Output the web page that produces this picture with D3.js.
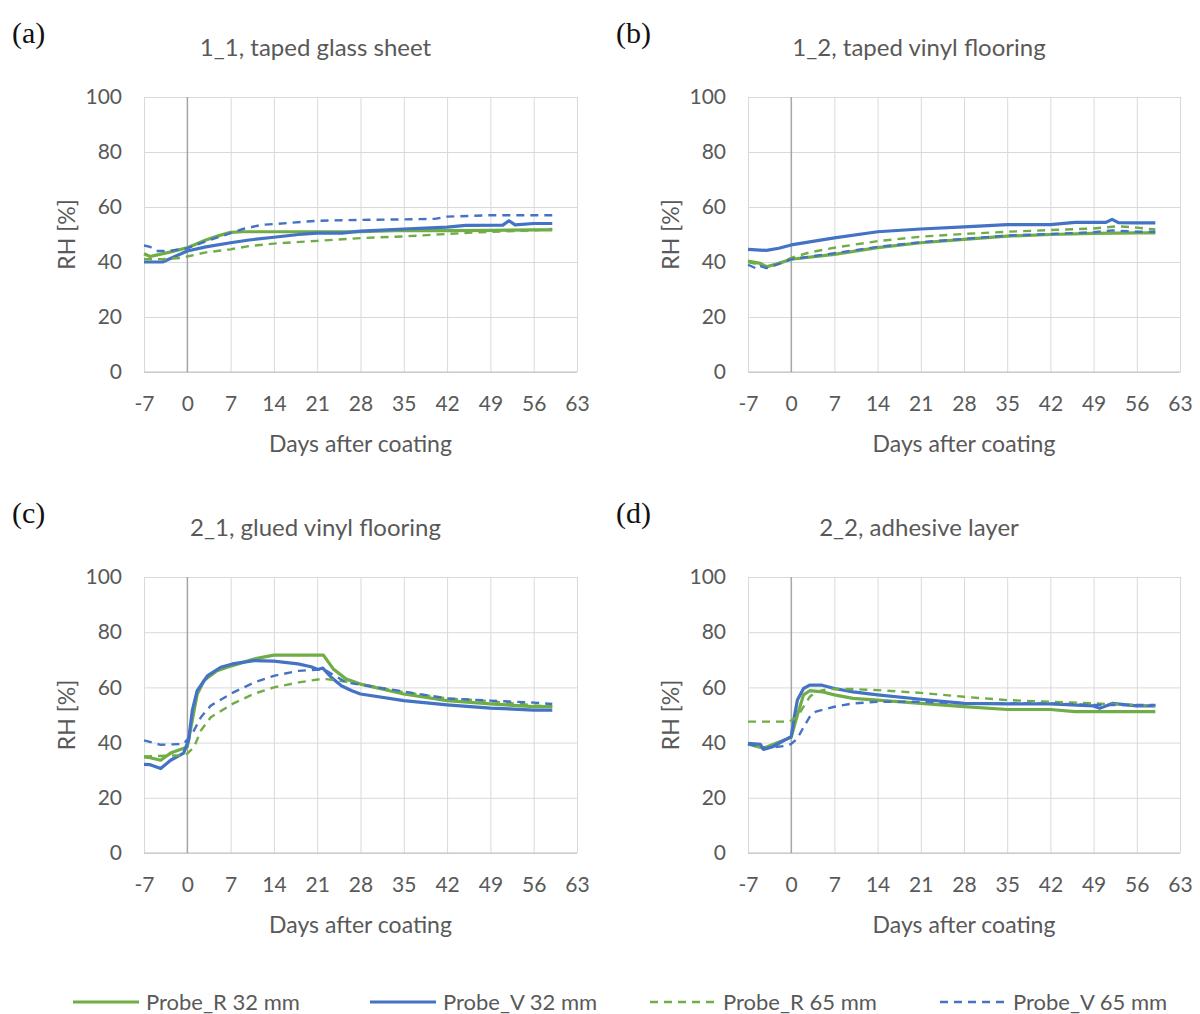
<!DOCTYPE html>
<html>
<head>
<meta charset="utf-8">
<script src="https://cdn.jsdelivr.net/npm/d3@7"></script>
<style>
  body { margin: 0; background: #ffffff; }
  svg { display: block; }
</style>
</head>
<body>
<script>
// tick labels
var xTicks = [-7, 0, 7, 14, 21, 28, 35, 42, 49, 56, 63];
var yTicks = [0, 20, 40, 60, 80, 100];

var seriesNames = ["Probe_R 32 mm", "Probe_V 32 mm", "Probe_R 65 mm", "Probe_V 65 mm"];

// (a) 1_1, taped glass sheet  -- [day, RH]
var aR32 = [[-7,43],[-6,42],[-5,42.5],[-3,43.5],[0,45.2],[3,48],[5,49.5],[7,50.8],[9,51],[21,51],[28,51],[35,51.5],[42,51.4],[49,51.5],[56,51.7],[59,51.7]];
var aV32 = [[-7,40],[-4,40],[-2,42],[0,44],[3,45.5],[7,47],[10,48],[14,49],[18,50],[21,50.5],[25,50.5],[28,51.2],[35,52],[42,52.7],[45,53.3],[51,53.4],[52,55],[53,53.5],[56,54],[59,54]];
var aR65 = [[-7,41],[-4,41],[-1,41.5],[0,42],[3,43.5],[7,44.6],[10,45.8],[14,46.7],[21,47.7],[28,48.7],[35,49.3],[42,50.2],[49,51],[56,51.5],[59,52]];
var aV65 = [[-7,46],[-6,45.5],[-5,44],[-3,44],[0,45],[3,47.5],[7,50.5],[9,52],[12,53.5],[14,53.8],[21,55],[28,55.3],[35,55.5],[40,55.7],[42,56.5],[49,57],[56,57],[59,57]];

// (b) 1_2, taped vinyl flooring
var bR32 = [[-7,40.3],[-5,39.5],[-4,38.3],[-2,39.5],[0,41],[7,42.8],[14,45.2],[21,47],[28,48.2],[35,49.4],[42,50],[49,50.4],[56,50.6],[59,50.6]];
var bV32 = [[-7,44.6],[-4,44.2],[-2,45],[0,46.2],[7,48.8],[14,51],[21,52],[28,52.8],[35,53.6],[42,53.6],[46,54.4],[51,54.4],[52,55.5],[53,54.3],[56,54.2],[59,54.2]];
var bR65 = [[-7,40],[-5,39],[-4,38],[-2,39.5],[0,41.5],[3,43.5],[7,45.2],[14,47.6],[21,49.2],[28,50.2],[35,51],[42,51.6],[49,52.2],[53,53],[56,52.5],[59,51.8]];
var bV65 = [[-7,39],[-5.5,37.5],[-5,38.5],[-4,37.8],[-3,38.5],[0,41],[7,43.2],[14,45.5],[21,47.2],[28,48.4],[35,49.6],[42,50.2],[49,50.8],[52,51.5],[56,51],[59,51]];

// (c) 2_1, glued vinyl flooring
var cR32 = [[-7,34.8],[-6,34.5],[-4.3,33.6],[-2.7,36.2],[0,38.4],[0.8,48],[1.6,57.5],[2.7,62.5],[4.8,66],[7.3,67.9],[10.8,70.3],[14,71.7],[22,71.7],[23.6,66.7],[25.7,63],[28,61.2],[35,57.6],[42,55.2],[49,54],[56,53],[59,53]];
var cV32 = [[-7,32.1],[-6,32],[-4.3,30.6],[-2.7,33.6],[-0.6,36.2],[0.2,40.8],[0.8,51.6],[1.6,58.8],[3.3,64.3],[5.4,67.3],[7.3,68.5],[10.8,69.7],[14,69.5],[17.9,68.5],[20,67.5],[21.1,66.5],[21.9,67],[23.3,63.6],[24.9,60.6],[26.6,58.8],[28,57.6],[35,55.2],[42,53.7],[49,52.5],[56,51.8],[59,51.8]];
var cR65 = [[-7,35],[-1,35.4],[0,36],[1.1,38.4],[2.2,44.4],[3.8,49.2],[7.3,54],[10.8,57.7],[14,60],[18,61.8],[21.5,63],[22.5,63],[25.7,62],[28,61.2],[35,58.3],[42,56],[49,55],[56,53.5],[59,53]];
var cV65 = [[-7,40.8],[-4.3,39.2],[-0.6,39.5],[0.8,43.2],[2.2,49.2],[3.8,53.4],[7.3,58],[10.8,61.8],[14,64.2],[18,66],[21.5,66.5],[22.5,66],[25.7,61.8],[28,61],[35,58.5],[42,56],[49,55.2],[56,54.5],[59,54]];

// (d) 2_2, adhesive layer
var dR32 = [[-7,39.5],[-4.5,38],[-1,41],[0,42],[1,50],[2,57.3],[3,58.8],[5,58.4],[7,57.3],[10,56],[14,55.4],[21,54.2],[28,53],[35,52],[42,52],[46,51.2],[56,51.2],[59,51.2]];
var dV32 = [[-7,39.7],[-5,39.4],[-4.5,37.5],[-3,38.5],[-1,41],[0,42.1],[0.5,49.3],[1,55.4],[2,59.6],[3,60.8],[5,60.8],[7,59.6],[10,58.4],[14,57.3],[21,55.7],[28,54.2],[35,54],[42,54],[49,53.3],[50,52.4],[52,54.2],[56,53.3],[59,53.3]];
var dR65 = [[-7,47.6],[-0.3,47.6],[1,49.3],[2,53],[3,56.6],[4,58.4],[6,59.4],[10,59.4],[14,59],[21,58],[28,56.6],[35,55.4],[42,54.8],[49,54.2],[56,53.6],[59,53.3]];
var dV65 = [[-7,39.5],[-4,38],[-1,38.8],[0,39.5],[1,41.5],[2,45.6],[3,49.3],[4,51.2],[6,52.4],[7,53],[10,54.2],[14,54.8],[21,54.8],[28,54.2],[35,54.2],[42,54.2],[49,53.6],[56,53.6],[59,53.6]];

var panels = [
  {letter: "(a)", title: "1_1, taped glass sheet", series: [aR32, aV32, aR65, aV65], col: 0, row: 0},
  {letter: "(b)", title: "1_2, taped vinyl flooring", series: [bR32, bV32, bR65, bV65], col: 1, row: 0},
  {letter: "(c)", title: "2_1, glued vinyl flooring", series: [cR32, cV32, cR65, cV65], col: 0, row: 1},
  {letter: "(d)", title: "2_2, adhesive layer", series: [dR32, dV32, dR65, dV65], col: 1, row: 1}
];

var w = 1200;
var h = 1014;
var colX = [[144, 577], [748, 1180]];
var rowY = [[97, 372], [577, 853]];
var colors = ["#70ad47", "#4472c4", "#70ad47", "#4472c4"];
var dashes = [null, null, "8,6", "8,6"];
var widths = [3.2, 3.2, 2.4, 2.4];
var textColor = "#595959";
var font = "Lato, 'Open Sans', sans-serif";

var svg = d3.select("body")
            .append("svg")
            .attr("width", w)
            .attr("height", h)
            .style("background-color", "#ffffff");

panels.forEach(function(p) {
  var x0 = colX[p.col][0], x1 = colX[p.col][1];
  var y0 = rowY[p.row][0], y1 = rowY[p.row][1];

  var x = d3.scaleLinear().domain([-7, 63]).range([x0, x1]);
  var y = d3.scaleLinear().domain([0, 100]).range([y1, y0]);

  var g = svg.append("g");

  // grid + tick labels
  var xAxis = g.append("g")
    .attr("transform", "translate(0," + y1 + ")")
    .call(d3.axisBottom(x).tickValues(xTicks).tickSize(-(y1 - y0)).tickPadding(24).tickFormat(d3.format("d")));
  var yAxis = g.append("g")
    .attr("transform", "translate(" + x0 + ",0)")
    .call(d3.axisLeft(y).tickValues(yTicks).tickSize(-(x1 - x0)).tickPadding(22));

  [xAxis, yAxis].forEach(function(a) {
    a.select(".domain").remove();
    a.selectAll("line").attr("stroke", "#d9d9d9").attr("stroke-width", 1);
    a.selectAll("text")
      .attr("fill", textColor)
      .style("font-family", font)
      .style("font-size", "21px");
  });
  xAxis.selectAll("text").text(function(d) { return d < 0 ? "-" + Math.abs(d) : d; });

  // bottom axis line and the zero-day axis line
  g.append("line")
    .attr("x1", x0).attr("x2", x1)
    .attr("y1", y(0)).attr("y2", y(0))
    .attr("stroke", "#bfbfbf").attr("stroke-width", 1);
  g.append("line")
    .attr("x1", x(0)).attr("x2", x(0))
    .attr("y1", y0).attr("y2", y1)
    .attr("stroke", "#9a9a9a").attr("stroke-width", 1.2);

  var line = d3.line()
    .x(function(d) { return x(d[0]); })
    .y(function(d) { return y(d[1]); });

  p.series.forEach(function(s, i) {
    g.append("path")
      .datum(s)
      .attr("d", line)
      .attr("fill", "none")
      .attr("stroke", colors[i])
      .attr("stroke-width", widths[i])
      .attr("stroke-linejoin", "round")
      .attr("stroke-dasharray", dashes[i]);
  });

  // titles
  g.append("text")
    .text(p.title)
    .attr("x", (x0 + x1) / 2 - 45)
    .attr("y", y0 - 49)
    .attr("dy", "0.35em")
    .attr("text-anchor", "middle")
    .attr("fill", textColor)
    .style("font-family", font)
    .style("font-size", "24px");

  g.append("text")
    .text("Days after coating")
    .attr("x", (x0 + x1) / 2)
    .attr("y", y1 + 72)
    .attr("dy", "0.35em")
    .attr("text-anchor", "middle")
    .attr("fill", textColor)
    .style("font-family", font)
    .style("font-size", "23px");

  g.append("text")
    .text("RH [%]")
    .attr("transform", "translate(" + (x0 - 77) + "," + ((y0 + y1) / 2) + ") rotate(-90)")
    .attr("dy", "0.35em")
    .attr("text-anchor", "middle")
    .attr("fill", textColor)
    .style("font-family", font)
    .style("font-size", "23px");

  g.append("text")
    .text(p.letter)
    .attr("x", x0 - 132)
    .attr("y", y0 - 65)
    .attr("dy", "0.35em")
    .attr("fill", "#111111")
    .style("font-family", "'Liberation Serif', 'DejaVu Serif', serif")
    .style("font-size", "30px");
});

// legend
var legendX = [73, 370, 650, 940];
var legend = svg.selectAll(".legend")
  .data(seriesNames)
  .enter()
  .append("g")
  .attr("class", "legend")
  .attr("transform", function(d, i) { return "translate(" + legendX[i] + ",1002)"; });

legend.append("line")
  .attr("x1", 0).attr("x2", 66)
  .attr("y1", 0).attr("y2", 0)
  .attr("stroke", function(d, i) { return colors[i]; })
  .attr("stroke-width", function(d, i) { return widths[i]; })
  .attr("stroke-dasharray", function(d, i) { return dashes[i]; });

legend.append("text")
  .text(function(d) { return d; })
  .attr("x", 73)
  .attr("y", 0)
  .attr("dy", "0.35em")
  .attr("fill", textColor)
  .style("font-family", font)
  .style("font-size", "22px");
</script>
</body>
</html>
